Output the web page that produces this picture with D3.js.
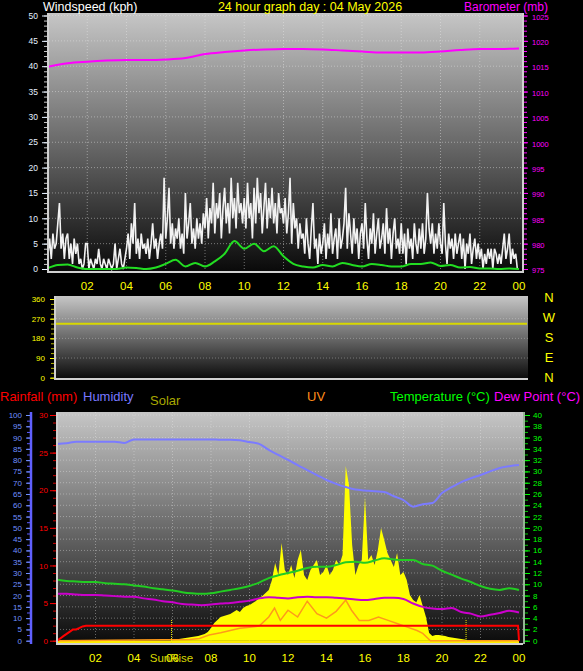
<!DOCTYPE html>
<html>
<head>
<meta charset="utf-8">
<script src="https://cdn.jsdelivr.net/npm/d3@7"></script>
<style>
  body { margin: 0; background: #000; }
  svg { display: block; font-family: "Liberation Sans", Arial, sans-serif; }
</style>
</head>
<body>
<div id="chart"></div>
<script>
const width = 583, height = 671;

// x axis labels (every 2 hours)
var hourLabels = ["02", "04", "06", "08", "10", "12", "14", "16", "18", "20", "22", "00"];

// wind speed, kph, every 5 minutes (one row per hour)
var windSpeed = [
  3, 6, 2, 7, 4, 5, 9, 13, 4, 7, 2, 6,
  7, 2, 5, 1, 6, 3, 5, 1, 2, 0, 1, 5,
  5, 0, 2, 1, 0, 2, 1, 4, 1, 0, 2, 1,
  0, 2, 1, 0, 1, 5, 0, 2, 4, 1, 0, 2,
  4, 7, 2, 9, 5, 13, 3, 6, 2, 7, 4, 5,
  3, 6, 2, 5, 9, 4, 6, 2, 5, 7, 4, 18,
  6, 10, 16, 5, 9, 4, 8, 6, 10, 4, 7, 3,
  15, 6, 9, 13, 5, 8, 4, 10, 6, 9, 5, 11,
  8, 14, 6, 12, 9, 17, 7, 13, 10, 15, 6, 12,
  16, 9, 13, 7, 18, 10, 14, 8, 17, 11, 13, 9,
  14, 8, 17, 10, 13, 6, 16, 9, 18, 11, 15, 7,
  12, 17, 8, 14, 10, 16, 9, 13, 7, 15, 11, 12,
  9, 14, 7, 11, 18, 5, 13, 8, 10, 4, 9, 6,
  7, 3, 10, 5, 2, 8, 13, 4, 6, 1, 7, 3,
  5, 9, 2, 7, 4, 11, 3, 6, 8, 2, 10, 4,
  6, 9, 16, 4, 11, 7, 3, 10, 5, 8, 2, 7,
  9, 4, 13, 6, 2, 8, 5, 11, 3, 7, 10, 4,
  6, 9, 3, 12, 5, 8, 2, 7, 10, 4, 6, 3,
  9, 3, 7, 1, 8, 4, 6, 2, 9, 5, 3, 8,
  4, 9, 3, 6, 15, 8, 5, 9, 3, 7, 4, 9,
  5, 3, 13, 5, 1, 7, 4, 6, 2, 7, 3, 5,
  7, 2, 6, 0, 5, 3, 7, 1, 4, 6, 2, 5,
  2, 4, 0, 3, 1, 4, 2, 4, 0, 4, 3, 1,
  3, 1, 4, 7, 2, 4, 7, 1, 4, 2, 3, 0
];

// average wind, kph, every 30 minutes
var windAvg = [
  0.2, 0.8, 0.9, 0.3, 0, 0, 0, 0, 0.3, 0.2, 0, 0.3,
  1.0, 1.8, 0.5, 1.2, 0.5, 1.5, 3.0, 5.5, 4.0, 5.0, 3.5, 4.5,
  2.5, 1.0, 0.5, 0.3, 0.8, 0.5, 1.2, 0.8, 0.5, 1.0, 0.8, 0.5,
  0.5, 1.0, 1.0, 1.3, 0.6, 0.8, 0.3, 0.4, 0.1, 0.1, 0, 0.1, 0
];

// barometer, mb, hourly
var barometer = [
  1014.9, 1015.6, 1015.9, 1016.1, 1016.2, 1016.2, 1016.3, 1016.6, 1017.4, 1017.8,
  1018.1, 1018.3, 1018.4, 1018.4, 1018.3, 1018.1, 1017.9, 1017.7, 1017.7, 1017.7,
  1017.9, 1018.2, 1018.4, 1018.4, 1018.5
];

// wind direction, degrees, hourly
var windDir = [
  247, 247, 247, 247, 247, 247, 247, 247, 247, 247, 247, 247, 247,
  247, 247, 247, 247, 247, 247, 247, 247, 247, 247, 247, 247
];

// humidity %, every 30 minutes
var humidity = [
  87.2, 87.5, 88.2, 88.2, 88.2, 88.2, 88.2, 87.6, 89.2, 89.2, 89.2, 89.2,
  89.2, 89.2, 89.2, 89.2, 89.2, 89.0, 89.0, 88.8, 88.0, 87.2, 84.5, 82.3,
  80.1, 77.8, 75.6, 73.4, 71.2, 69.5, 68.1, 67.0, 66.6, 66.2, 65.9, 64.0,
  62.3, 59.4, 60.5, 61.0, 65.4, 68.0, 70.3, 72.0, 73.4, 75.0, 76.5, 77.3, 77.8
];

// temperature °C, every 30 minutes
var temperature = [
  10.8, 10.6, 10.5, 10.4, 10.4, 10.2, 10.1, 10.0, 9.8, 9.6, 9.3, 9.1,
  8.9, 8.6, 8.4, 8.3, 8.4, 8.7, 9.0, 9.3, 9.7, 10.3, 11.1, 11.6,
  12.0, 12.4, 12.9, 13.1, 13.1, 13.4, 13.9, 14.0, 13.8, 14.2, 14.6, 14.4,
  14.3, 14.3, 13.6, 13.3, 12.4, 11.7, 11.0, 10.4, 9.7, 9.2, 9.0, 9.3, 9.0
];

// dew point °C, every 30 minutes
var dewPoint = [
  8.3, 8.3, 8.2, 8.1, 8.1, 8.0, 7.9, 7.8, 7.8, 7.5, 7.3, 7.0,
  6.8, 6.5, 6.4, 6.3, 6.4, 6.6, 6.7, 6.9, 7.1, 7.5, 7.7, 7.6,
  7.5, 7.7, 7.8, 7.7, 7.7, 7.6, 7.5, 7.3, 7.2, 7.4, 7.6, 7.6,
  7.4, 6.6, 6.0, 5.7, 5.6, 5.8, 5.1, 4.8, 4.3, 4.6, 4.9, 5.3, 5.0
];

// rainfall, cumulative mm: [hour, mm]
var rainHours = [0, 0.17, 0.33, 0.5, 0.67, 0.83, 1.0, 1.17, 1.33, 1.5, 23.95, 24];
var rainMm = [0, 0.3, 0.6, 0.9, 1.2, 1.5, 1.5, 1.7, 1.9, 2.0, 2.0, 0];

// solar W/m2, every 10 minutes from 06:00 to 21:30
var solarStart = 6;
var solar = [
  2, 6, 9, 12, 14, 17,
  20, 22, 25, 30, 36, 46,
  68, 94, 110, 126, 131, 137,
  142, 152, 163, 152, 174, 185,
  190, 200, 211, 227, 238, 254,
  270, 323, 413, 349, 520, 376,
  349, 402, 333, 429, 482, 349,
  323, 376, 402, 429, 349, 365,
  402, 349, 376, 429, 402, 455,
  929, 828, 509, 349, 402, 429,
  764, 429, 455, 402, 482, 599,
  535, 466, 429, 392, 466, 349,
  365, 323, 243, 216, 205, 243,
  185, 126, 41, 25, 30, 30,
  28, 25, 20, 17, 14, 12,
  9, 6, 4, 0
];

// UV index: [hour, uv]
var uvHours = [0, 6.9, 7.4, 7.9, 8.5, 9.0, 9.5, 10.0, 10.5, 11.0, 11.3, 11.6, 12.0, 12.5, 13.0,
  13.5, 14.0, 14.5, 15.0, 15.3, 15.7, 16.2, 16.7, 17.2, 17.7, 18.2, 18.7, 19.0, 19.4, 24];
var uvIndex = [0, 0.1, 0.2, 0.5, 0.7, 0.9, 1.1, 1.2, 1.3, 2.1, 2.9, 1.8, 2.7, 2.1, 3.5,
  2.4, 2.0, 2.6, 3.6, 2.7, 1.8, 1.8, 2.1, 1.8, 1.5, 1.2, 0.9, 0.65, 0, 0];

var sunRise = 5.95, sunSet = 21.25;

const svg = d3.select("#chart").append("svg")
    .attr("width", width)
    .attr("height", height)
    .style("background", "#000");

const defs = svg.append("defs");
var grad = defs.append("linearGradient")
    .attr("id", "bg")
    .attr("x1", 0).attr("y1", 0).attr("x2", 0).attr("y2", 1);
grad.append("stop").attr("offset", "0%").attr("stop-color", "#c6c6c6");
grad.append("stop").attr("offset", "50%").attr("stop-color", "#6a6a6a");
grad.append("stop").attr("offset", "100%").attr("stop-color", "#0a0a0a");

function panel(x0, y0, x1, y1) {
  svg.append("rect")
      .attr("x", x0).attr("y", y0)
      .attr("width", x1 - x0).attr("height", y1 - y0)
      .attr("fill", "url(#bg)");
}

function text(x, y, str, color, size, anchor) {
  return svg.append("text")
      .attr("x", x).attr("y", y)
      .attr("fill", color)
      .attr("font-size", size)
      .attr("text-anchor", anchor || "start")
      .text(str);
}

function styleAxis(g, color, fontSize) {
  g.select(".domain").remove();
  g.selectAll("line").attr("stroke", color);
  g.selectAll("text").attr("fill", color).attr("font-size", fontSize);
}

// ---------- top panel : wind + barometer ----------
function drawTop() {
  var x = d3.scaleLinear().domain([0, 24]).range([48, 519]);
  var y = d3.scaleLinear().domain([0, 50]).range([269, 15.5]);
  var yb = d3.scaleLinear().domain([975, 1025]).range([269, 15.5]);

  panel(49, 13, 523, 271);

  // grid
  var grid = svg.append("g").attr("stroke", "#e8e8e8").attr("stroke-opacity", 0.45)
      .attr("stroke-dasharray", "1,2");
  grid.selectAll(".h").data(d3.range(5, 51, 5)).join("line")
      .attr("x1", 49).attr("x2", 523)
      .attr("y1", d => y(d)).attr("y2", d => y(d));
  grid.selectAll(".v").data(d3.range(2, 24, 2)).join("line")
      .attr("x1", d => x(d)).attr("x2", d => x(d))
      .attr("y1", 13).attr("y2", 271);

  // wind speed
  var line = d3.line()
      .x((d, i) => x(i / 12))
      .y(d => y(d));
  svg.append("path")
      .attr("d", line(windSpeed))
      .attr("fill", "none")
      .attr("stroke", "#f2f2f2")
      .attr("stroke-width", 1.6);

  // average wind
  var avgLine = d3.line()
      .x((d, i) => x(i / 2))
      .y(d => y(d))
      .curve(d3.curveMonotoneX);
  svg.append("path")
      .attr("d", avgLine(windAvg))
      .attr("fill", "none")
      .attr("stroke", "#22dd22")
      .attr("stroke-width", 2);

  // barometer
  var baroLine = d3.line()
      .x((d, i) => x(i))
      .y(d => yb(d))
      .curve(d3.curveMonotoneX);
  svg.append("path")
      .attr("d", baroLine(barometer))
      .attr("fill", "none")
      .attr("stroke", "#ff00ff")
      .attr("stroke-width", 2);

  // borders
  svg.append("path")
      .attr("d", "M48,13V272H523V13")
      .attr("fill", "none").attr("stroke", "#d0d0d0").attr("stroke-width", 2);

  // left axis
  var minor = svg.append("g").attr("transform", "translate(47,0)")
      .call(d3.axisLeft(y).tickValues(d3.range(0, 51, 1)).tickSize(3).tickFormat(""));
  styleAxis(minor, "#c8c8c8", 8);
  var major = svg.append("g").attr("transform", "translate(47,0)")
      .call(d3.axisLeft(y).tickValues(d3.range(0, 51, 5)).tickSize(5).tickPadding(4));
  styleAxis(major, "#e4f0ff", 8.5);

  // right axis
  var rminor = svg.append("g").attr("transform", "translate(524,0)")
      .call(d3.axisRight(yb).tickValues(d3.range(975, 1026, 1)).tickSize(3).tickFormat(""));
  styleAxis(rminor, "#ff00ff", 8);
  var rmajor = svg.append("g").attr("transform", "translate(524,0)")
      .call(d3.axisRight(yb).tickValues(d3.range(975, 1026, 5)).tickSize(4).tickPadding(4)
        .tickFormat(d3.format("d")));
  styleAxis(rmajor, "#ff00ff", 7.5);
  rmajor.selectAll("text").attr("dy", "0.5em");

  // hour labels
  svg.selectAll(".toph").data(hourLabels).join("text")
      .attr("x", (d, i) => x((i + 1) * 2))
      .attr("y", 290)
      .attr("text-anchor", "middle")
      .attr("fill", "#ffff00")
      .attr("font-size", 11.5)
      .text(d => d);

  text(43, 11, "Windspeed (kph)", "#ffffff", 12.5);
  text(310, 11, "24 hour graph day : 04 May 2026", "#ffff00", 12.5, "middle");
  text(464, 10.5, "Barometer (mb)", "#ff00ff", 12);
}

// ---------- middle panel : wind direction ----------
function drawMiddle() {
  var x = d3.scaleLinear().domain([0, 24]).range([56, 527]);
  var y = d3.scaleLinear().domain([0, 360]).range([377.7, 299]);

  panel(56, 296, 528, 379);

  svg.append("g").attr("stroke", "#e8e8e8").attr("stroke-opacity", 0.35)
      .attr("stroke-dasharray", "1,2")
      .selectAll("line").data([90, 180, 270]).join("line")
      .attr("x1", 56).attr("x2", 528)
      .attr("y1", d => y(d)).attr("y2", d => y(d));

  var line = d3.line().x((d, i) => x(i)).y(d => y(d));
  svg.append("path")
      .attr("d", line(windDir))
      .attr("fill", "none")
      .attr("stroke", "#d8d800")
      .attr("stroke-width", 2);

  svg.append("path")
      .attr("d", "M55,296V379H528")
      .attr("fill", "none").attr("stroke", "#d0d0d0").attr("stroke-width", 2);

  var minor = svg.append("g").attr("transform", "translate(54,0)")
      .call(d3.axisLeft(y).tickValues(d3.range(0, 361, 22.5)).tickSize(3).tickFormat(""));
  styleAxis(minor, "#b8b800", 8);
  var major = svg.append("g").attr("transform", "translate(54,0)")
      .call(d3.axisLeft(y).tickValues([0, 90, 180, 270, 360]).tickSize(4).tickPadding(5));
  styleAxis(major, "#ffff00", 8);

  var compass = ["N", "W", "S", "E", "N"];
  svg.selectAll(".cmp").data(compass).join("text")
      .attr("x", 549)
      .attr("y", (d, i) => 301.5 + i * 20)
      .attr("text-anchor", "middle")
      .attr("fill", "#ffff00")
      .attr("font-size", 13)
      .text(d => d);
}

// ---------- bottom panel : temperature, humidity, rain, solar ----------
function drawBottom() {
  var x = d3.scaleLinear().domain([0, 24]).range([57, 519]);
  var yH = d3.scaleLinear().domain([0, 100]).range([640.7, 415]);
  var yR = d3.scaleLinear().domain([0, 30]).range([640.7, 415]);
  var yT = d3.scaleLinear().domain([0, 40]).range([640.7, 415]);
  var yS = d3.scaleLinear().domain([0, 1200]).range([640.7, 415]);
  var yU = d3.scaleLinear().domain([0, 20]).range([640.7, 415]);

  panel(57, 412, 523, 644);

  var grid = svg.append("g").attr("stroke", "#e8e8e8").attr("stroke-opacity", 0.4)
      .attr("stroke-dasharray", "1,2");
  grid.selectAll(".h").data(d3.range(2, 41, 2)).join("line")
      .attr("x1", 57).attr("x2", 523)
      .attr("y1", d => yT(d)).attr("y2", d => yT(d));
  grid.selectAll(".v").data(d3.range(2, 24, 2)).join("line")
      .attr("x1", d => x(d)).attr("x2", d => x(d))
      .attr("y1", 412).attr("y2", 644);

  // solar
  var area = d3.area()
      .x((d, i) => x(solarStart + i / 6))
      .y0(yS(0))
      .y1(d => yS(d));
  svg.append("path")
      .attr("d", area(solar))
      .attr("fill", "#ffff00");
  svg.append("line")
      .attr("x1", 57).attr("x2", 519)
      .attr("y1", 642).attr("y2", 642)
      .attr("stroke", "#ffee00").attr("stroke-width", 3);

  // UV
  var uvLine = d3.line()
      .x((d, i) => x(uvHours[i]))
      .y(d => yU(d));
  svg.append("path")
      .attr("d", uvLine(uvIndex))
      .attr("fill", "none")
      .attr("stroke", "#ff9a1a")
      .attr("stroke-width", 1.5);

  // sunrise / sunset markers
  [sunRise, sunSet].forEach(function(h) {
    svg.append("line")
        .attr("x1", x(h)).attr("x2", x(h))
        .attr("y1", 620).attr("y2", 643)
        .attr("stroke", "#e8e800").attr("stroke-dasharray", "1,1");
  });

  function series(data, yScale, color) {
    var l = d3.line().x((d, i) => x(i / 2)).y(d => yScale(d)).curve(d3.curveMonotoneX);
    svg.append("path")
        .attr("d", l(data))
        .attr("fill", "none")
        .attr("stroke", color)
        .attr("stroke-width", 2);
  }
  series(humidity, yH, "#7b7bff");
  series(temperature, yT, "#22cc22");
  series(dewPoint, yT, "#cc00cc");

  // rainfall
  var rainLine = d3.line()
      .x((d, i) => x(rainHours[i]))
      .y(d => yR(d));
  svg.append("path")
      .attr("d", rainLine(rainMm))
      .attr("fill", "none")
      .attr("stroke", "#ff0000")
      .attr("stroke-width", 2);

  svg.append("path")
      .attr("d", "M57,412V644H523")
      .attr("fill", "none").attr("stroke", "#cfcfcf").attr("stroke-width", 2);

  // humidity axis
  svg.append("line").attr("x1", 31).attr("x2", 31).attr("y1", 412).attr("y2", 644)
      .attr("stroke", "#6060ff").attr("stroke-width", 2.5);
  var hMinor = svg.append("g").attr("transform", "translate(30,0)")
      .call(d3.axisLeft(yH).tickValues(d3.range(0, 101, 2.5)).tickSize(3).tickFormat(""));
  styleAxis(hMinor, "#6060ff", 8);
  var hMajor = svg.append("g").attr("transform", "translate(30,0)")
      .call(d3.axisLeft(yH).tickValues(d3.range(0, 101, 5)).tickSize(4).tickPadding(4));
  styleAxis(hMajor, "#7090ff", 8);

  // rain axis
  var rMinor = svg.append("g").attr("transform", "translate(56,0)")
      .call(d3.axisLeft(yR).tickValues(d3.range(0, 31, 1)).tickSize(3).tickFormat(""));
  styleAxis(rMinor, "#d00000", 8);
  var rMajor = svg.append("g").attr("transform", "translate(56,0)")
      .call(d3.axisLeft(yR).tickValues(d3.range(0, 31, 5)).tickSize(6).tickPadding(2));
  styleAxis(rMajor, "#ff0000", 8);

  // temperature axis
  svg.append("line").attr("x1", 524).attr("x2", 524).attr("y1", 412).attr("y2", 644)
      .attr("stroke", "#c8f0c8").attr("stroke-width", 1.5);
  var tMinor = svg.append("g").attr("transform", "translate(525,0)")
      .call(d3.axisRight(yT).tickValues(d3.range(0, 41, 1)).tickSize(3).tickFormat(""));
  styleAxis(tMinor, "#00cc00", 8);
  var tMajor = svg.append("g").attr("transform", "translate(525,0)")
      .call(d3.axisRight(yT).tickValues(d3.range(0, 41, 2)).tickSize(5).tickPadding(3));
  styleAxis(tMajor, "#00ff00", 8);

  svg.selectAll(".both").data(hourLabels).join("text")
      .attr("x", (d, i) => x((i + 1) * 2))
      .attr("y", 662)
      .attr("text-anchor", "middle")
      .attr("fill", "#ffff00")
      .attr("font-size", 11.5)
      .text(d => d);
  // the original draws SunRise right over the 06 label
  text(x(sunRise), 662, "SunRise", "#d8d800", 11.5, "middle");

  text(0, 401, "Rainfall (mm)", "#ff0000", 13);
  text(83, 401, "Humidity", "#7878ff", 13);
  text(150, 405, "Solar", "#a8a800", 13);
  text(307, 401, "UV", "#ff8c1a", 13);
  text(390, 401, "Temperature (°C)", "#00ff00", 13);
  text(494, 401, "Dew Point (°C)", "#ff00ff", 13);
}

drawTop();
drawMiddle();
drawBottom();
</script>
</body>
</html>
